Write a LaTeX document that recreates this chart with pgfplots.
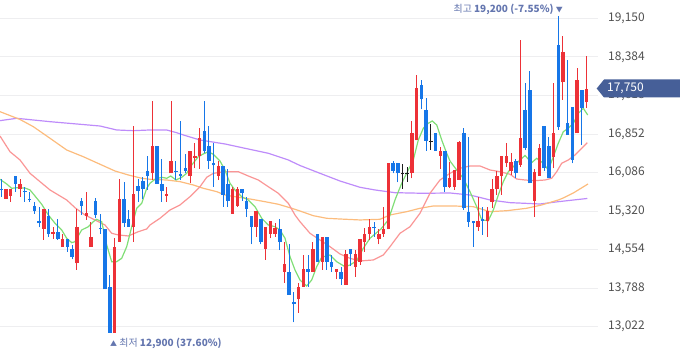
\documentclass[border=0pt]{standalone}
\usepackage{pgfplots}
\pgfplotsset{compat=1.18}
\usepackage{pgfplotstable}
\usepackage{fontspec}
\newfontfamily\kr{Noto Sans CJK KR}
\definecolor{cred}{RGB}{237,49,55}
\definecolor{cblue}{RGB}{22,118,232}
\definecolor{cblack}{RGB}{30,30,30}
\definecolor{mgreen}{RGB}{128,222,118}
\definecolor{mpink}{RGB}{250,150,150}
\definecolor{morange}{RGB}{252,188,125}
\definecolor{mpurple}{RGB}{190,140,250}
\definecolor{gridc}{RGB}{238,238,240}
\definecolor{labc}{RGB}{80,80,80}
\definecolor{tagc}{RGB}{70,95,152}
\definecolor{annc}{RGB}{100,118,175}

% i high low bodylow bodyhigh
\pgfplotstableread{
i h l bl bh
1 15765 15566 15566 15765
2 15765 15506 15619 15765
4 15957 15606 15765 15852
9 15361 14751 14970 15361
11 15003 14765 14870 14910
13 14858 14612 14612 14771
16 15355 14149 14282 15009
18 15705 15143 15228 15276
19 15109 14612 14612 14811
24 14779 12900 12900 14612
25 15951 14711 14711 15554
28 17010 14711 15009 15653
32 17513 15937 16070 16613
35 15804 15506 15625 15653
36 17513 16070 16070 16315
40 16514 15872 16017 16514
41 16667 16170 16380 16420
42 16977 16156 16420 16766
46 16315 15937 16023 16216
49 15792 15262 15262 15753
50 15804 15407 15427 15759
54 15327 14811 15009 15327
56 15009 14348 14566 15009
57 15129 14779 14864 15129
58 15077 14811 14864 14978
60 14699 13897 14109 14268
63 13897 13301 13567 13817
64 14447 13817 13817 14163
66 14711 14115 14115 14566
68 14805 14149 14314 14805
71 14163 13964 14115 14163
73 14546 13851 13851 14461
75 14546 14010 14215 14467
76 14765 14248 14308 14765
77 14984 14507 14711 14864
78 15162 14745 14864 15009
80 14958 14660 14765 14864
81 15407 14811 14864 14958
82 16281 14958 14958 16281
87 17110 15971 16070 16865
88 18014 16722 16722 17765
93 16599 16162 16414 16514
95 16301 15772 15804 15971
96 16136 15739 15804 16136
97 16718 15937 15937 16686
101 15594 14930 15009 15129
103 15407 14811 15129 15321
104 15957 15375 15506 15753
105 16116 15639 15753 16023
106 16414 15639 16023 16414
107 16667 16202 16269 16420
108 16480 16037 16122 16301
110 18719 16202 16235 16778
113 16150 15208 15526 16102
114 16647 16023 16023 16567
117 17859 16170 16388 16865
119 18799 17527 17879 18475
122 18157 16865 16865 17924
124 18407 17374 17481 17750
}\redT

\pgfplotstableread{
i h l bl bh
0 15951 15606 15733 15765
3 16017 15705 15864 16017
5 15804 15506 15705 15725
6 15699 15506 15546 15566
7 15500 15262 15327 15421
8 15407 14997 15077 15123
10 15361 14811 14864 15222
12 15162 14745 14771 14910
14 14765 14507 14612 14765
15 14646 14362 14413 14572
17 15574 15242 15427 15520
20 15574 15176 15242 15520
21 15262 14864 14958 14978
22 14958 13766 13766 14958
23 14050 12900 12900 13817
26 15904 15009 15077 15560
27 15341 15009 15009 15162
29 15951 15506 15725 15812
30 15991 15560 15765 15917
31 16414 15739 16017 16122
33 16613 15858 15858 16613
34 16355 15506 15725 15852
37 16315 15937 16102 16122
38 17110 15937 16017 16057
39 16454 16070 16116 16170
43 17513 16468 16520 16911
44 17016 16156 16321 16613
45 16667 15804 16229 16281
47 16216 15407 15639 16216
48 16156 15407 15526 15858
51 15759 15520 15673 15759
52 15606 15208 15361 15520
53 15222 14660 15009 15222
55 15162 14660 14711 15162
59 15162 14546 14711 14958
61 14660 13658 13658 14109
62 13706 13110 13468 13513
65 14447 13817 14115 14163
67 14864 14314 14314 14864
69 14805 14149 14314 14805
70 14447 14115 14215 14308
72 14215 13851 13964 14103
74 14560 14229 14467 14560
79 15097 14811 14978 15009
83 16315 16070 16116 16281
84 16281 15892 16070 16281
89 17924 17342 17541 17825
90 17561 16514 16718 17328
92 16877 16520 16520 16871
94 16520 15705 15804 16520
98 16965 15341 15375 16877
99 16798 15009 15109 15308
100 15129 14612 15077 15129
102 15407 14845 15129 15162
109 16355 15971 16070 16315
111 17859 16533 16579 17328
112 18109 15872 15872 17726
115 17010 16122 16170 17010
116 16798 15971 15971 16613
118 19200 16931 16985 18620
120 18322 16832 16832 17064
121 17394 16269 16335 17394
123 17726 16633 17362 17726
}\blueT

\pgfplotstableread{
i h l bl bh
85 16249 15759 16051 16070
86 16202 15904 16051 16070
91 17056 16543 16692 16718
}\blackT

\pgfplotsset{
  wick/.style={draw=none, mark=none, forget plot,
    error bars/.cd, y dir=plus, y explicit, error mark=none,
    error bar style={line width=1bp, draw=#1}},
  body/.style={draw=none, mark=none, forget plot,
    error bars/.cd, y dir=plus, y explicit, error mark=none,
    error bar style={line width=3.5bp, line cap=butt, draw=#1}},
}

\begin{document}
\begin{tikzpicture}
\path[use as bounding box] (0,0) rectangle (680bp,358bp);
\begin{axis}[
  at={(0,0)}, anchor=south west, scale only axis,
  width=598bp, height=358bp,
  xmin=-0.275, xmax=126.42, ymin=12400, ymax=19514,
  clip=false,
  axis line style={draw=none}, tick style={draw=none},
  xtick=\empty,
  ytick={13022,13788,14554,15320,16086,16852,17618,18384,19150},
  yticklabels={{13,022},{13,788},{14,554},{15,320},{16,086},{16,852},{17,618},{18,384},{19,150}},
  yticklabel pos=right,
  yticklabel style={anchor=west, xshift=10bp, inner sep=0pt, font=\kr\fontsize{12}{14}\selectfont, text=labc},
  ymajorgrids, grid style={gridc, line width=0.8bp},
]
% moving averages
\addplot[mpurple, line width=1.2bp, no markers] coordinates {
(-0.28,17116) (3.26,17163) (10.32,17096) (20.91,17010) (24.45,16931) (27.97,16917) (31.50,16931) (35.04,16931) (37.16,16877) (38.56,16832) (42.10,16732) (47.39,16653) (51.63,16567) (56.57,16468) (60.81,16335) (63.28,16225) (67.52,16070) (71.76,15917) (76.00,15792) (79.17,15739) (83.41,15685) (89.41,15673) (95.06,15679) (99.30,15639) (103.54,15540) (107.78,15487) (110.95,15474) (114.13,15460) (118.01,15506) (124.15,15570)
};
\addplot[morange, line width=1.2bp, no markers] coordinates {
(-0.28,17295) (3.96,17140) (6.78,16997) (10.32,16766) (13.86,16533) (17.37,16400) (21.27,16235) (24.09,16116) (26.91,16037) (29.75,15971) (31.50,15951) (35.04,15937) (37.86,15904) (40.68,15838) (42.80,15772) (45.64,15705) (47.39,15639) (50.21,15594) (53.05,15554) (55.87,15506) (58.69,15455) (61.53,15375) (63.28,15321) (66.10,15228) (68.94,15176) (71.76,15162) (76.00,15143) (80.23,15156) (82.35,15242) (85.89,15308) (88.71,15375) (91.53,15421) (95.77,15421) (100.00,15407) (103.54,15308) (107.08,15327) (111.31,15375) (114.49,15441) (118.01,15540) (119.07,15580) (121.19,15679) (124.30,15858)
};
\addplot[mpink, line width=1.2bp, no markers] coordinates {
(-0.28,16812) (1.84,16500) (3.96,16335) (6.08,16070) (8.20,15904) (10.32,15739) (12.44,15619) (13.86,15540) (15.61,15387) (17.73,15242) (19.85,15143) (21.97,15043) (23.39,14878) (24.79,14845) (26.91,14825) (29.03,14910) (30.81,14964) (31.50,15043) (33.62,15176) (35.74,15341) (37.86,15441) (39.98,15606) (42.10,15804) (43.52,15991) (44.92,16070) (47.39,16102) (50.21,16102) (52.33,16017) (54.45,15937) (56.57,15804) (58.69,15673) (60.81,15474) (62.22,15242) (63.28,15109) (65.40,14878) (67.52,14745) (69.64,14612) (71.76,14467) (73.88,14381) (76.00,14328) (78.81,14348) (80.93,14447) (82.35,14612) (84.47,14878) (86.59,15009) (88.71,15276) (90.83,15673) (92.94,15937) (95.06,16070) (97.18,16170) (99.30,16216) (101.42,16216) (103.54,16136) (105.66,16102) (107.78,16051) (109.19,15957) (110.95,15937) (113.07,15924) (115.19,15937) (116.61,15971) (117.67,16102) (118.72,16269) (120.13,16335) (121.55,16434) (122.97,16567) (124.15,16679)
};
\addplot[mgreen, line width=1.2bp, no markers] coordinates {
(-0.28,15951) (1.14,15858) (2.20,15772) (3.26,15784) (5.02,15778) (6.08,15739) (7.14,15619) (8.56,15455) (9.96,15242) (11.38,15077) (12.80,14944) (13.86,14779) (14.92,14692) (15.61,14711) (17.03,14944) (18.43,15009) (19.49,15109) (20.21,15156) (21.27,15109) (22.33,14646) (23.39,14314) (24.45,14314) (25.51,14381) (26.57,14612) (27.63,15009) (28.69,15375) (29.75,15474) (30.81,15772) (31.50,15872) (32.56,15951) (33.98,15991) (35.04,15971) (35.89,16017) (37.01,15937) (38.22,15991) (39.28,16070) (40.34,16235) (41.74,16400) (42.80,16454) (43.86,16500) (44.92,16448) (46.33,16315) (47.39,16136) (48.45,15872) (49.51,15739) (50.93,15606) (52.33,15540) (53.75,15407) (55.17,15176) (56.57,15043) (57.99,15009) (59.05,14944) (60.11,14779) (61.17,14413) (62.22,14149) (63.28,13950) (64.70,13831) (65.76,13950) (66.82,14215) (67.88,14402) (69.64,14447) (71.06,14314) (72.82,14215) (73.88,14248) (75.30,14334) (76.69,14580) (78.11,14779) (79.17,14864) (80.45,14964) (81.99,15143) (83.41,15540) (84.83,15872) (86.23,16136) (87.29,16335) (88.35,16732) (89.41,16965) (90.47,17064) (91.31,17110) (92.25,17030) (93.31,16732) (94.36,16468) (95.06,16315) (96.48,16136) (97.88,15971) (99.30,15705) (100.72,15407) (101.78,15143) (103.18,15129) (104.24,15341) (105.30,15639) (106.36,15904) (107.42,16102) (108.47,16202) (109.53,16301) (110.95,16424) (112.37,16281) (113.43,16368) (114.83,16269) (115.89,16136) (116.95,16400) (118.01,16667) (119.07,16897) (120.13,16965) (121.19,17064) (122.25,17263) (123.31,17362) (124.24,17229)
};
% candles: wicks
\addplot[wick=cred] table[x=i, y=l, y error expr=\thisrow{h}-\thisrow{l}] {\redT};
\addplot[wick=cblue] table[x=i, y=l, y error expr=\thisrow{h}-\thisrow{l}] {\blueT};
\addplot[wick=cblack] table[x=i, y=l, y error expr=\thisrow{h}-\thisrow{l}] {\blackT};
% candles: bodies
\addplot[body=cred] table[x=i, y=bl, y error expr=\thisrow{bh}-\thisrow{bl}] {\redT};
\addplot[body=cblue] table[x=i, y=bl, y error expr=\thisrow{bh}-\thisrow{bl}] {\blueT};
\addplot[body=cblack] table[x=i, y=bl, y error expr=\thisrow{bh}-\thisrow{bl}] {\blackT};
\end{axis}
% current price tag
\fill[tagc] (596.7bp,269.5bp) -- (604bp,278.5bp) -- (680bp,278.5bp) -- (680bp,260.5bp) -- (604bp,260.5bp) -- cycle;
\node[anchor=west, inner sep=0pt, text=white, font=\kr\fontsize{12}{14}\selectfont] at (607bp,269.5bp) {17,750};
% high / low annotations
\node[anchor=east, inner sep=0pt, text=annc, font=\kr\fontsize{10}{12}\selectfont] at (563bp,349bp) {최고 \textbf{19,200 (-7.55\%)} {\fontsize{7}{8}\selectfont ▼}};
\node[anchor=west, inner sep=0pt, text=annc, font=\kr\fontsize{10}{12}\selectfont] at (110bp,14.7bp) {{\fontsize{7}{8}\selectfont ▲} 최저 \textbf{12,900 (37.60\%)}};
\end{tikzpicture}
\end{document}
